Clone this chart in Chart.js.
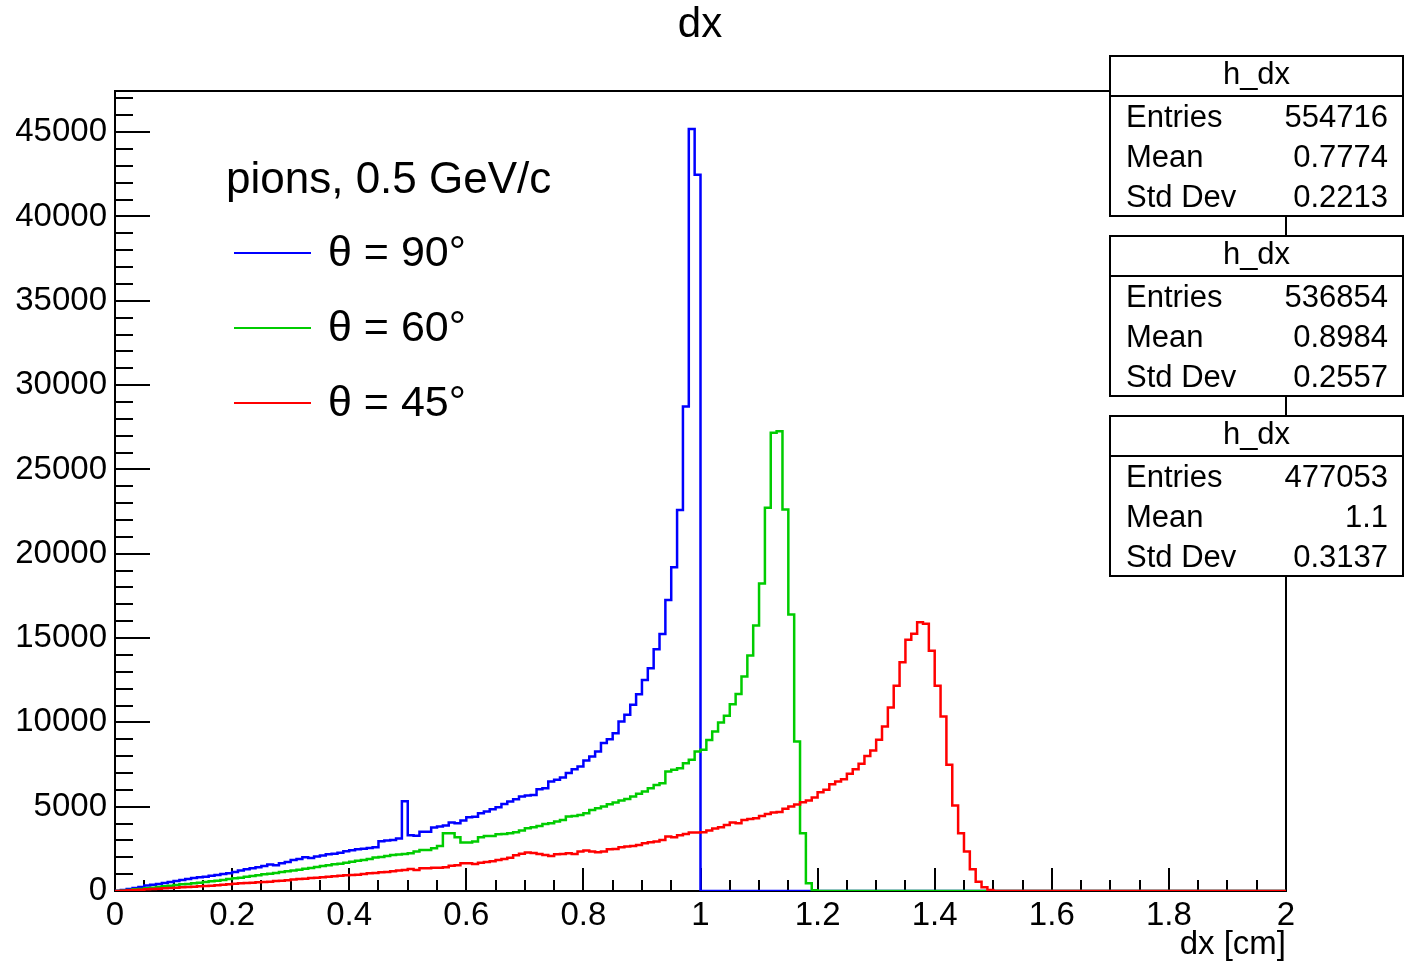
<!DOCTYPE html>
<html>
<head>
<meta charset="utf-8">
<title>dx</title>
<script src="https://cdn.jsdelivr.net/npm/chart.js@4.4.1/dist/chart.umd.min.js"></script>
<style>
  html, body { margin: 0; padding: 0; background: #fff; }
  #wrap { width: 1408px; height: 972px; }
</style>
</head>
<body>
<div id="wrap"><canvas id="c" width="1408" height="972"></canvas></div>
<script>
// h_dx: 200 bins between 0 and 2 cm
const NBINS = 200;
const X_MIN = 0;
const X_MAX = 2;

// theta = 90 deg
const countsTheta90 = [
  20, 60, 120, 180, 240, 320, 375, 415, 475, 535,
  595, 655, 710, 770, 810, 850, 910, 950, 1010, 1050,
  1130, 1210, 1285, 1345, 1405, 1485, 1565, 1525, 1640, 1720,
  1840, 1900, 2000, 1960, 2040, 2100, 2180, 2215, 2275, 2355,
  2415, 2475, 2510, 2550, 2590, 2950, 2990, 3030, 3110, 5320,
  3300, 3270, 3520, 3520, 3760, 3820, 3880, 4060, 4020, 4180,
  4370, 4410, 4610, 4710, 4850, 4970, 5160, 5300, 5440, 5600,
  5660, 5700, 6040, 6100, 6490, 6590, 6730, 6990, 7220, 7380,
  7740, 7980, 8270, 8770, 9000, 9360, 10050, 10450, 11040, 11670,
  12515, 13210, 14335, 15240, 17260, 19200, 22600, 28725, 45180, 42470,
  0, 0, 0, 0, 0, 0, 0, 0, 0, 0,
  0, 0, 0, 0, 0, 0, 0, 0, 0, 0,
  0, 0, 0, 0, 0, 0, 0, 0, 0, 0,
  0, 0, 0, 0, 0, 0, 0, 0, 0, 0,
  0, 0, 0, 0, 0, 0, 0, 0, 0, 0,
  0, 0, 0, 0, 0, 0, 0, 0, 0, 0,
  0, 0, 0, 0, 0, 0, 0, 0, 0, 0,
  0, 0, 0, 0, 0, 0, 0, 0, 0, 0,
  0, 0, 0, 0, 0, 0, 0, 0, 0, 0,
  0, 0, 0, 0, 0, 0, 0, 0, 0, 0
];

// theta = 60 deg
const countsTheta60 = [
  0, 20, 60, 100, 120, 160, 200, 240, 275, 315,
  355, 395, 415, 455, 495, 535, 575, 615, 655, 710,
  750, 790, 850, 890, 930, 990, 1030, 1070, 1130, 1170,
  1210, 1265, 1325, 1365, 1425, 1485, 1525, 1585, 1620, 1680,
  1740, 1800, 1840, 1900, 1980, 2020, 2080, 2140, 2160, 2190,
  2236, 2335, 2434, 2434, 2533, 2670, 3424, 3424, 3186, 2870,
  2870, 2930, 3186, 3265, 3265, 3364, 3384, 3424, 3483, 3582,
  3720, 3780, 3860, 3978, 4017, 4116, 4215, 4413, 4453, 4512,
  4611, 4809, 4908, 5007, 5145, 5244, 5363, 5462, 5600, 5760,
  5900, 6095, 6293, 6392, 7085, 7184, 7283, 7580, 7780, 8270,
  8370, 8960, 9460, 9990, 10390, 11080, 11680, 12725, 13970, 15750,
  18230, 22720, 27170, 27270, 22620, 16390, 8870, 3420, 455, 40,
  0, 0, 0, 0, 0, 0, 0, 0, 0, 0,
  0, 0, 0, 0, 0, 0, 0, 0, 0, 0,
  0, 0, 0, 0, 0, 0, 0, 0, 0, 0,
  0, 0, 0, 0, 0, 0, 0, 0, 0, 0,
  0, 0, 0, 0, 0, 0, 0, 0, 0, 0,
  0, 0, 0, 0, 0, 0, 0, 0, 0, 0,
  0, 0, 0, 0, 0, 0, 0, 0, 0, 0,
  0, 0, 0, 0, 0, 0, 0, 0, 0, 0
];

// theta = 45 deg
const countsTheta45 = [
  0, 20, 40, 60, 80, 100, 120, 140, 160, 180,
  200, 220, 240, 255, 275, 295, 315, 335, 375, 395,
  435, 455, 475, 495, 515, 535, 555, 595, 615, 635,
  675, 710, 730, 770, 790, 810, 850, 870, 910, 930,
  950, 970, 1010, 1050, 1070, 1110, 1130, 1170, 1210, 1240,
  1306, 1247, 1346, 1346, 1385, 1385, 1405, 1504, 1524, 1643,
  1643, 1603, 1682, 1722, 1761, 1840, 1900, 1979, 2117, 2216,
  2276, 2256, 2197, 2137, 2078, 2177, 2197, 2236, 2197, 2335,
  2395, 2335, 2296, 2335, 2474, 2494, 2593, 2632, 2672, 2731,
  2830, 2889, 2929, 3028, 3226, 3186, 3305, 3384, 3463, 3463,
  3483, 3582, 3700, 3780, 3918, 4057, 4017, 4215, 4275, 4314,
  4453, 4571, 4650, 4690, 4880, 5010, 5135, 5270, 5370, 5550,
  5850, 6000, 6330, 6490, 6630, 6950, 7220, 7540, 8010, 8330,
  8965, 9760, 10880, 12170, 13560, 14900, 15260, 15930, 15850, 14250,
  12170, 10350, 7480, 5070, 3420, 2335, 1290, 555, 220, 60,
  0, 0, 0, 0, 0, 0, 0, 0, 0, 0,
  0, 0, 0, 0, 0, 0, 0, 0, 0, 0,
  0, 0, 0, 0, 0, 0, 0, 0, 0, 0,
  0, 0, 0, 0, 0, 0, 0, 0, 0, 0,
  0, 0, 0, 0, 0, 0, 0, 0, 0, 0
];

const Y_MAX = 47440;
const xTickValues = [0, 0.2, 0.4, 0.6, 0.8, 1, 1.2, 1.4, 1.6, 1.8, 2];
const yTickValues = [0, 5000, 10000, 15000, 20000, 25000, 30000, 35000, 40000, 45000];

const legendHeader = "pions, 0.5 GeV/c";
const legendLabels = ["\u03b8 = 90\u00b0", "\u03b8 = 60\u00b0", "\u03b8 = 45\u00b0"];
const lineColors = ["#0000ff", "#00cc00", "#ff0000"];

// stat boxes, one per histogram
const statNames = ["Entries", "Mean", "Std Dev"];
const statValues = [
  ["554716", "0.7774", "0.2213"],
  ["536854", "0.8984", "0.2557"],
  ["477053", "1.1", "0.3137"]
];

const FONT = '"Liberation Sans", Arial, Helvetica, sans-serif';

// bin low edges -> points for a stepped line; last point closes the final bin
function toPoints(counts) {
  const w = (X_MAX - X_MIN) / NBINS;
  const pts = counts.map((c, i) => ({ x: X_MIN + i * w, y: c }));
  pts.push({ x: X_MAX, y: counts[counts.length - 1] });
  return pts;
}

function fmtX(v) {
  return String(+Number(v).toFixed(2));
}

// frame, tick marks, title, legend and stat boxes (ROOT look)
const rootDecor = {
  id: "rootDecor",
  beforeDatasetsDraw(chart) {
    const { ctx, chartArea: a, scales } = chart;
    const xs = scales.x, ys = scales.y;
    ctx.save();
    ctx.strokeStyle = "#000";
    ctx.lineWidth = 2;
    ctx.strokeRect(a.left, a.top, a.right - a.left, a.bottom - a.top);

    ctx.beginPath();
    for (let v = 0; v <= Y_MAX; v += 1000) {
      const y = Math.round(ys.getPixelForValue(v));
      const len = v % 5000 === 0 ? 35 : 18;
      ctx.moveTo(a.left, y);
      ctx.lineTo(a.left + len, y);
    }
    for (let k = 0; k <= 40; k++) {
      const v = k * 0.05;
      const x = Math.round(xs.getPixelForValue(v));
      const len = k % 4 === 0 ? 23 : 11;
      ctx.moveTo(x, a.bottom);
      ctx.lineTo(x, a.bottom - len);
    }
    ctx.stroke();
    ctx.restore();
  },
  afterDraw(chart) {
    const { ctx, chartArea: a } = chart;
    ctx.save();
    ctx.fillStyle = "#000";
    ctx.textBaseline = "middle";

    // title
    ctx.font = "42px " + FONT;
    ctx.textAlign = "center";
    ctx.fillText("dx", 700, 25);

    // x axis title
    ctx.font = "33px " + FONT;
    ctx.textAlign = "right";
    ctx.fillText("dx [cm]", a.right, 945);

    // legend
    ctx.textAlign = "left";
    ctx.font = "44px " + FONT;
    ctx.fillText(legendHeader, 226, 181);
    ctx.font = "43px " + FONT;
    legendLabels.forEach((lab, i) => {
      const y = 253 + i * 75;
      ctx.strokeStyle = lineColors[i];
      ctx.lineWidth = 2;
      ctx.beginPath();
      ctx.moveTo(234, y);
      ctx.lineTo(311, y);
      ctx.stroke();
      ctx.fillStyle = "#000";
      ctx.fillText(lab, 328, y + 1);
    });

    // stat boxes
    const bx = 1110, bw = 293, bh = 160, gap = 20;
    statValues.forEach((vals, i) => {
      const top = 56 + i * (bh + gap);
      ctx.fillStyle = "#fff";
      ctx.fillRect(bx, top, bw, bh);
      ctx.strokeStyle = "#000";
      ctx.lineWidth = 2;
      ctx.strokeRect(bx, top, bw, bh);
      ctx.beginPath();
      ctx.moveTo(bx, top + 40);
      ctx.lineTo(bx + bw, top + 40);
      ctx.stroke();
      ctx.fillStyle = "#000";
      ctx.font = "31px " + FONT;
      ctx.textAlign = "center";
      ctx.fillText("h_dx", bx + bw / 2, top + 19);
      statNames.forEach((name, j) => {
        const y = top + 62 + j * 40;
        ctx.textAlign = "left";
        ctx.fillText(name, 1126, y);
        ctx.textAlign = "right";
        ctx.fillText(vals[j], 1388, y);
      });
    });
    ctx.restore();
  }
};

const series = [countsTheta90, countsTheta60, countsTheta45];

new Chart(document.getElementById("c"), {
  type: "line",
  data: {
    datasets: series.map((counts, i) => ({
      label: legendLabels[i],
      data: toPoints(counts),
      borderColor: lineColors[i],
      borderWidth: 2.5,
      stepped: "before",
      pointRadius: 0,
      fill: false,
      order: 3 - i
    }))
  },
  options: {
    responsive: false,
    devicePixelRatio: 1,
    animation: false,
    layout: { padding: { top: 91, right: 122, left: 0, bottom: 0 } },
    plugins: {
      legend: { display: false },
      tooltip: { enabled: false },
      title: { display: false }
    },
    scales: {
      x: {
        type: "linear",
        min: X_MIN,
        max: X_MAX,
        grid: { display: false, drawTicks: false },
        border: { display: false },
        afterBuildTicks: (s) => { s.ticks = xTickValues.map((v) => ({ value: v })); },
        ticks: {
          maxRotation: 0,
          autoSkip: false,
          padding: 5,
          color: "#000",
          font: { family: FONT, size: 33 },
          callback: (v) => fmtX(v)
        },
        afterFit: (s) => { s.height = 81; }
      },
      y: {
        type: "linear",
        min: 0,
        max: Y_MAX,
        grid: { display: false, drawTicks: false },
        border: { display: false },
        afterBuildTicks: (s) => { s.ticks = yTickValues.map((v) => ({ value: v })); },
        ticks: {
          autoSkip: false,
          padding: 8,
          color: "#000",
          font: { family: FONT, size: 33 },
          callback: (v) => String(v)
        },
        afterFit: (s) => { s.width = 115; }
      }
    }
  },
  plugins: [rootDecor]
});
</script>
</body>
</html>
